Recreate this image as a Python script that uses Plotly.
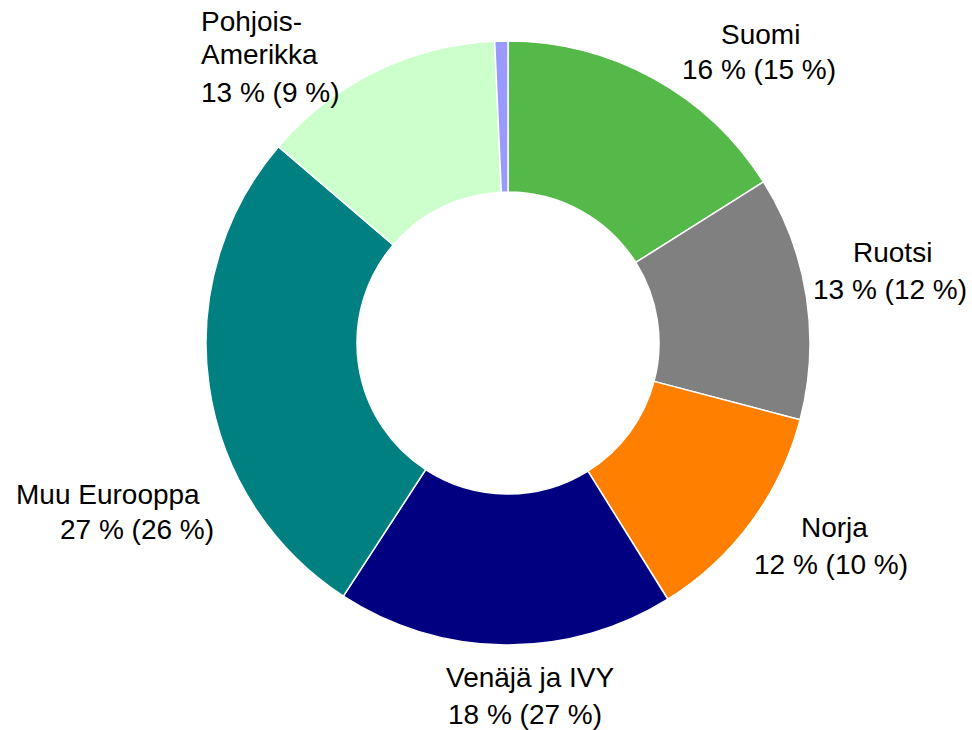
import plotly.graph_objects as go

W, H = 972, 730

# Data
categories = ["Suomi", "Ruotsi", "Norja", "Venäjä ja IVY", "Muu Eurooppa", "Pohjois-Amerikka", "Muut"]
shares = [16, 13, 12, 18, 27, 13, 0.7]
prev_shares = [15, 12, 10, 27, 26, 9, None]
colors = ["#54b948", "#808080", "#ff7f00", "#000080", "#008080", "#ccffcc", "#9999ff"]

fig = go.Figure()
fig.add_trace(go.Pie(
    labels=categories,
    values=shares,
    sort=False,
    direction="clockwise",
    rotation=0,
    hole=0.5,
    textinfo="none",
    hoverinfo="label+value",
    marker=dict(colors=colors, line=dict(color="white", width=1.5)),
    showlegend=False,
    domain=dict(x=[(508 - 302) / W, (508 + 302) / W],
                y=[(H - 343 - 302) / H, (H - 343 + 302) / H]),
))

FONT = dict(family="Liberation Sans, Arial, sans-serif", size=28, color="#000000")

def pct(i):
    return f"{shares[i]:g} % ({prev_shares[i]:g} %)"

# label lines: (text, x_px, y_px, xanchor)
label_lines = [
    ("Suomi", 760, 35, "center"),
    (pct(0), 759, 69, "center"),
    ("Ruotsi", 892, 253, "center"),
    (pct(1), 890, 289, "center"),
    ("Norja", 834, 527, "center"),
    (pct(2), 831, 564, "center"),
    ("Venäjä ja IVY", 530, 677, "center"),
    (pct(3), 525, 714, "center"),
    ("Muu Eurooppa", 108, 494, "center"),
    (pct(4), 137, 529, "center"),
    ("Pohjois-", 199, 22, "left"),
    ("Amerikka", 199, 55, "left"),
    (pct(5), 199, 93, "left"),
]

for text, xp, yp, xa in label_lines:
    fig.add_annotation(
        x=xp / W, y=1 - yp / H, xref="paper", yref="paper",
        text=text, showarrow=False, xanchor=xa, yanchor="middle",
        font=FONT,
    )

fig.update_layout(
    width=W, height=H,
    margin=dict(l=0, r=0, t=0, b=0),
    paper_bgcolor="white",
    plot_bgcolor="white",
)

fig.write_html(
    "out.html",
    config={"displayModeBar": False},
    post_script="document.body.style.margin='0';document.body.style.overflow='hidden';",
)
